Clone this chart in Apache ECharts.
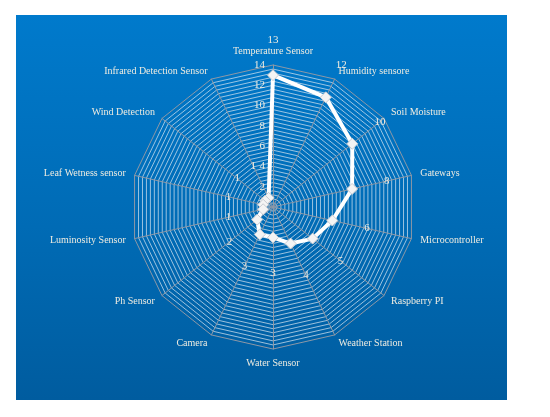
<!DOCTYPE html>
<html>
<head>
<meta charset="utf-8">
<script src="https://cdn.jsdelivr.net/npm/echarts@6/dist/echarts.min.js"></script>
<style>
html,body{margin:0;padding:0;background:#fff;}
#bg{position:absolute;left:16px;top:15px;width:491px;height:385px;background:linear-gradient(to bottom,#007acc 0%,#006bb5 55%,#005c9f 100%);}
#chart{position:absolute;left:0;top:0;width:550px;height:417px;}
</style>
</head>
<body>
<div id="bg"></div>
<div id="chart"></div>
<script>
// ---- data ----
const categories = ['Temperature Sensor','Humidity sensore','Soil Moisture','Gateways','Microcontroller','Raspberry PI','Weather Station','Water Sensor','Camera','Ph Sensor','Luminosity Sensor','Leaf Wetness sensor','Wind Detection','Infrared Detection Sensor'];
const values = [13,12,10,8,6,5,4,3,3,2,1,1,1,1];
const axisMax = 14;
const majorStep = 2;
const minorStep = 0.4;

// ECharts radar runs counter-clockwise; reorder so categories run clockwise
const order = [0].concat(categories.slice(1).map((_, i) => categories.length - 1 - i));
const ordCats = order.map(i => categories[i]);
const ordVals = order.map(i => values[i]);

const splitN = Math.round(axisMax / minorStep);
const textColor = '#eeece1';
const font = 'Liberation Serif';

const ringColors = [];
for (let i = 0; i <= splitN; i++) ringColors.push(i === splitN ? '#8d98a6' : 'rgba(215,228,240,0.72)');

const chart = echarts.init(document.getElementById('chart'), null, {renderer: 'canvas'});
const labelOffset = 3.5;
chart.setOption({
  animation: false,
  radar: [{
    center: [273, 207],
    radius: 142,
    startAngle: 90,
    shape: 'polygon',
    splitNumber: splitN,
    nameGap: 9,
    axisName: {color: textColor, fontFamily: font, fontSize: 10},
    axisLine: {lineStyle: {color: '#8d98a6', width: 1}},
    splitLine: {lineStyle: {color: ringColors, width: 1}},
    splitArea: {show: false},
    axisTick: {show: false},
    axisLabel: {show: false},
    indicator: ordCats.map((c, k) => {
      const o = {name: c, min: 0, max: axisMax};
      if (k === 0) {
        o.axisLabel = {
          show: true, color: textColor, fontFamily: font, fontSize: 11, margin: 8,
          formatter: v => {
            const q = v / majorStep;
            return Math.abs(q - Math.round(q)) < 1e-6 ? String(Math.round(v)) : '';
          }
        };
      }
      return o;
    })
  }, {
    center: [273, 207],
    radius: 142 * (axisMax + labelOffset) / axisMax,
    startAngle: 90,
    shape: 'polygon',
    splitNumber: 1,
    axisName: {show: false},
    axisLine: {show: false},
    splitLine: {show: false},
    splitArea: {show: false},
    axisTick: {show: false},
    axisLabel: {show: false},
    indicator: ordCats.map(c => ({name: c, min: -labelOffset, max: axisMax}))
  }],
  series: [{
    type: 'radar',
    radarIndex: 0,
    symbol: 'diamond',
    symbolSize: 11,
    lineStyle: {color: '#ffffff', width: 4},
    itemStyle: {color: '#f4f4f4', borderColor: '#c8ccd2', borderWidth: 1},
    data: [{value: ordVals, name: 'Series'}],
    z: 3
  }, {
    type: 'radar',
    radarIndex: 1,
    symbol: 'circle',
    symbolSize: 1,
    lineStyle: {opacity: 0, width: 0},
    itemStyle: {color: 'transparent'},
    label: {show: true, position: 'inside', color: textColor, fontFamily: font, fontSize: 11},
    data: [{value: ordVals, name: 'Labels'}],
    z: 4
  }]
});
</script>
</body>
</html>
